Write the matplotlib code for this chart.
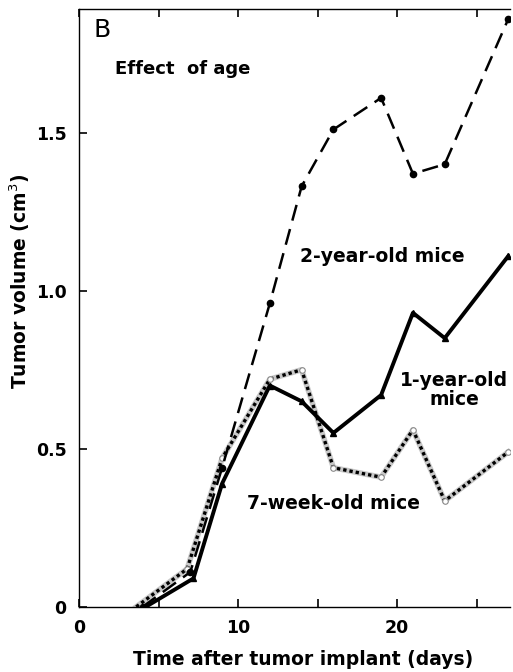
import matplotlib.pyplot as plt
from matplotlib.ticker import FixedLocator, FuncFormatter

plt.rcParams['font.family'] = ['DejaVu Sans']

# 2-year-old mice (dashed, filled circles)
days_2y = [4, 7, 9, 12, 14, 16, 19, 21, 23, 27]
vol_2y = [0.0, 0.11, 0.44, 0.96, 1.33, 1.51, 1.61, 1.37, 1.40, 1.86]

# 1-year-old mice (solid, triangles)
days_1y = [4.2, 7.2, 9, 12, 14, 16, 19, 21, 23, 27]
vol_1y = [0.0, 0.09, 0.39, 0.70, 0.65, 0.55, 0.67, 0.93, 0.85, 1.11]

# 7-week-old mice (hatched, open circles)
days_7w = [3.6, 6.8, 9, 12, 14, 16, 19, 21, 23, 27]
vol_7w = [0.0, 0.12, 0.47, 0.72, 0.75, 0.44, 0.41, 0.56, 0.335, 0.49]

fig = plt.figure(figsize=(5.13, 6.72), dpi=100)
ax = fig.add_axes([0.154, 0.097, 0.840, 0.890])

# 7-week: light under-stroke + short black dashes -> hatched look
ax.plot(days_7w, vol_7w, color='#c8c8c8', lw=4.0, zorder=2)
ax.plot(days_7w, vol_7w, color='black', lw=2.4, dashes=(1.0, 0.9), zorder=3)
ax.plot(days_7w[1:], vol_7w[1:], ls='none', marker='o', ms=4, mfc='white',
        mec='#888888', mew=0.8, zorder=4)

ax.plot(days_1y, vol_1y, color='black', lw=2.8, marker='^', ms=4.5, zorder=5)
ax.plot(days_2y, vol_2y, color='black', lw=1.8, dashes=(6.5, 3.5), marker='o',
        ms=4.5, zorder=6)

ax.set_xlim(0, 27.1)
ax.set_ylim(0, 1.892)

ax.xaxis.set_major_locator(FixedLocator([0, 5, 10, 15, 20, 25]))
ax.xaxis.set_major_formatter(FuncFormatter(lambda v, p: '%d' % v if v % 10 == 0 else ''))
ax.yaxis.set_major_locator(FixedLocator([0, 0.5, 1.0, 1.5]))
ax.yaxis.set_major_formatter(FuncFormatter(lambda v, p: '0' if v == 0 else '%.1f' % v))

ax.tick_params(direction='in', length=6, width=1.2, top=True, right=False,
               labelsize=12.5, pad=9)
for lab in ax.get_xticklabels() + ax.get_yticklabels():
    lab.set_fontweight('bold')

ax.spines['right'].set_visible(False)
for s in ['left', 'bottom', 'top']:
    ax.spines[s].set_linewidth(1.0)

ax.set_xlabel('Time after tumor implant (days)', fontsize=13.5, fontweight='bold')
ax.xaxis.set_label_coords(0.52, -0.072)
ax.set_ylabel('Tumor volume (cm$^3$)', fontsize=13.5, fontweight='bold')
ax.yaxis.set_label_coords(-0.108, 0.545)

ax.text(0.9, 1.826, 'B', fontsize=18, ha='left', va='center')
ax.text(2.25, 1.70, 'Effect  of age', fontsize=13, fontweight='bold', ha='left', va='center')
ax.text(19.1, 1.107, '2-year-old mice', fontsize=13.5, fontweight='bold', ha='center', va='center')
ax.text(23.6, 0.687, '1-year-old\nmice', fontsize=13.5, fontweight='bold', ha='center',
        va='center', linespacing=1.0)
ax.text(16.0, 0.326, '7-week-old mice', fontsize=13.5, fontweight='bold', ha='center', va='center')

fig.savefig('out.png', dpi=100)
